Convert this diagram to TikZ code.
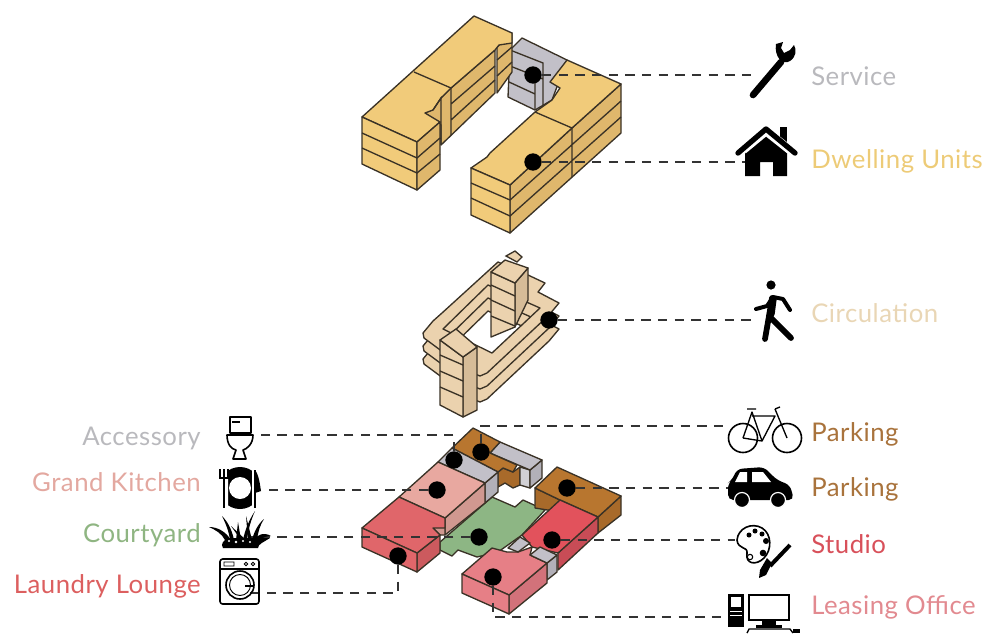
\documentclass[tikz,border=0pt]{standalone}
\usepackage{fontspec}
\setmainfont[LetterSpace=2]{Lato}
\definecolor{outl}{HTML}{3A3226}
\definecolor{ytop}{HTML}{F1CB7A}\definecolor{yside}{HTML}{DFB76C}
\definecolor{gtop}{HTML}{C2C0C8}\definecolor{gside}{HTML}{B2B0B8}
\definecolor{ctop}{HTML}{EBD2AE}\definecolor{cside}{HTML}{D6BC98}
\definecolor{btop}{HTML}{B8762F}\definecolor{bside}{HTML}{A86A2A}
\definecolor{ktop}{HTML}{E8A8A0}\definecolor{kside}{HTML}{D09890}
\definecolor{ltop}{HTML}{E0666A}\definecolor{lside}{HTML}{CC5A5E}
\definecolor{stop}{HTML}{E2525C}\definecolor{sside}{HTML}{C84C56}
\definecolor{otop}{HTML}{E67F86}\definecolor{oside}{HTML}{D2727A}
\definecolor{green1}{HTML}{8DB684}
\definecolor{tS}{HTML}{B9B9BD}\definecolor{tD}{HTML}{EDCB77}\definecolor{tC}{HTML}{E9D6B5}
\definecolor{tP}{HTML}{A9733C}\definecolor{tSt}{HTML}{D8505A}\definecolor{tL}{HTML}{E28A90}
\definecolor{tA}{HTML}{B9B9BD}\definecolor{tK}{HTML}{E3A8A0}\definecolor{tY}{HTML}{8FB582}\definecolor{tR}{HTML}{DC5F5F}
\tikzset{
 face/.style={draw=outl,line width=1pt,line join=round},
 seam/.style={draw=outl,line width=1pt},
 dot/.style={circle,fill=black,inner sep=0pt,minimum size=13pt},
 leader/.style={draw=black!80,line width=1.1pt,dash pattern=on 7pt off 5.5pt},
 lab/.style={font=\fontsize{19.3}{22}\selectfont,inner sep=0pt},
 labr/.style={lab,anchor=base west},
 labl/.style={lab,anchor=base east},
 ico/.style={line width=1.2pt,draw=black,line join=round},
}
\newcommand{\slabring}{%
 \fill[ctop,draw=outl,line width=1pt,even odd rule,line join=round]
 (423,333)--(433,321)--(442,313)--(498,262)--(528,275)--(545,283)--(538,292)--(559,303)--(549,315)--(487,373)--(480,376)--(470,372)--(424,338)--cycle
 (443,329)--(488,285)--(540,308)--(492,353)--cycle;
}
\begin{document}
\begin{tikzpicture}[x=.75pt,y=-.75pt]
\useasboundingbox (0,0) rectangle (984,633);
% ---------- dwelling: service
\fill[gtop,face] (510,50)--(522,38)--(567,60)--(552,100)--(535,110)--(508,97)--cycle;
\draw[seam] (510,50)--(543,63)--(543,105) (510,66)--(543,79) (509,82)--(535,94) (535,78)--(535,110);
% left block
\fill[yside,face] (425,113)--(441,98)--(451,88)--(495,50)--(495,93)--(441,145)--(441,125)--cycle;
\fill[yside,face] (497,47)--(512,33)--(512,72)--(497,93)--cycle;
\fill[ytop,face] (362,117)--(474,16)--(512,33)--(512,43)--(499,45)--(495,50)--(451,88)--(441,98)--(433,110)--(425,113)--(440,122)--(417,142)--cycle;
\fill[ytop,face] (362,117)--(417,142)--(417,190)--(362,164)--cycle;
\fill[yside,face] (417,142)--(440,122)--(440,170)--(417,190)--cycle;
\draw[seam] (362,133)--(417,158)--(440,138) (362,148)--(417,173)--(440,154)
 (414,72)--(451,88)--(451,135) (451,104)--(495,66) (451,120)--(495,80)
 (433,110)--(441,98)--(441,145) (497,60)--(512,47) (497,76)--(512,62);
% right block
\fill[yside,face] (510,185)--(572,128)--(621,84)--(621,133)--(510,233)--cycle;
\fill[ytop,face] (471,168)--(487,157)--(490,153)--(535,112)--(552,100)--(560,88)--(550,82)--(567,60)--(621,84)--(572,128)--(510,185)--cycle;
\fill[ytop,face] (471,168)--(510,185)--(510,233)--(471,215)--cycle;
\draw[seam] (535,112)--(572,128)--(572,177)
 (471,183)--(510,200)--(621,101) (471,198)--(510,216)--(621,117);
% ---------- circulation
\begin{scope}[shift={(0,26)}]\slabring\end{scope}
\begin{scope}[shift={(0,13)}]\slabring\end{scope}
\slabring
\fill[ctop,draw=outl,line width=1pt] (506,256)--(515,251)--(522,257)--(517,262)--cycle;
% back tower
\fill[cside,face] (515,283)--(528,268)--(528,300)--(515,327)--cycle;
\fill[ctop,face] (491,272)--(491,337)--(515,327)--(515,283)--cycle;
\fill[ctop,face] (491,272)--(505,260)--(528,268)--(515,283)--cycle;
\draw[seam] (491,285)--(515,296) (491,300)--(515,311) (491,316)--(515,326);
% front tower
\fill[cside,face] (463,357)--(477,347)--(477,410)--(463,417)--cycle;
\fill[ctop,face] (440,340)--(463,357)--(463,417)--(440,405)--cycle;
\fill[ctop,face] (440,340)--(456,329)--(477,347)--(463,357)--cycle;
\draw[seam] (440,355)--(463,365) (440,371)--(463,381) (440,387)--(463,397);
% ---------- ground
\fill[green1,face] (440,542)--(492,497)--(515,507)--(523,500)--(545,510)--(522,535)--(498,552)--(477,557)--(458,550)--(452,556)--(440,550)--cycle;
% back brown + grey
\fill[bside,face] (498,472)--(503,468)--(513,472)--(520,467)--(520,485)--(513,488)--(505,483)--(498,487)--cycle;
\fill[gside!60!white,face] (520,467)--(530,470)--(530,488)--(520,485)--cycle;
\fill[gside,face] (530,470)--(542,460)--(542,478)--(530,488)--cycle;
\fill[gtop,face] (500,442)--(542,460)--(530,470)--(490,453)--cycle;
\fill[btop,face] (452,448)--(473,428)--(500,442)--(490,453)--(517,465)--(513,472)--(503,468)--(498,472)--cycle;
% accessory
\fill[gside,face] (485,483)--(498,472)--(498,492)--(485,503)--cycle;
\fill[gtop,face] (438,462)--(452,448)--(498,472)--(485,483)--cycle;
% kitchen
\fill[kside,face] (445,518)--(485,483)--(485,503)--(445,535)--cycle;
\fill[ktop,face] (399,497)--(438,462)--(485,483)--(445,518)--cycle;
% laundry
\fill[kside,face] (433,528)--(445,518)--(445,535)--(440,535)--cycle;
\fill[lside,face] (417,553)--(440,535)--(440,553)--(417,572)--cycle;
\fill[ltop,face] (362,528)--(399,497)--(445,518)--(445,528)--(433,528)--(440,535)--(417,553)--cycle;
\fill[ltop,face] (362,528)--(417,553)--(417,572)--(362,547)--cycle;
% right brown
\fill[bside,face] (535,488)--(560,500)--(560,512)--(535,508)--cycle;
\fill[bside,face] (598,517)--(621,496)--(621,515)--(598,533)--cycle;
\fill[btop,face] (535,488)--(557,467)--(621,496)--(598,517)--(560,500)--cycle;
% studio
\fill[sside,face] (598,517)--(598,533)--(558,570)--(558,553)--cycle;
\fill[stop,face] (522,535)--(560,500)--(598,517)--(558,553)--(532,547)--cycle;
% leasing
\fill[gside,face] (547,563)--(557,555)--(557,572)--(547,580)--cycle;
\fill[oside,face] (509,595)--(547,563)--(547,583)--(509,614)--cycle;
\fill[otop,face] (462,574)--(492,548)--(507,552)--(518,552)--(532,547)--(530,555)--(547,563)--(509,595)--cycle;
\fill[otop,face] (462,574)--(509,595)--(509,614)--(462,593)--cycle;
\fill[gtop,face] (508,548)--(520,537)--(530,543)--(518,552)--cycle;
\fill[gtop,face] (530,555)--(540,547)--(557,555)--(547,563)--cycle;
% ---------- dots
\node[dot] (dService) at (533,75) {};
\node[dot] (dDwell) at (533,162) {};
\node[dot] (dCirc) at (549,320) {};
\node[dot] (dAcc) at (454,460) {};
\node[dot] (dBike) at (481,452) {};
\node[dot] (dKit) at (437,490) {};
\node[dot] (dCourt) at (479,537) {};
\node[dot] (dLaun) at (398,556) {};
\node[dot] (dCar) at (567,488) {};
\node[dot] (dStudio) at (552,540) {};
\node[dot] (dLease) at (493,577) {};
% ---------- leader ends
\coordinate (eService) at (757,75);
\coordinate (eDwell) at (745,162);
\coordinate (eCirc) at (752,320);
\coordinate (eAcc) at (250,435);
\coordinate (eBike) at (730,426);
\coordinate (eKit) at (262,490);
\coordinate (eCourt) at (250,537);
\coordinate (eLaun) at (250,593);
\coordinate (eCar) at (728,488);
\coordinate (eStudio) at (735,540);
\coordinate (eLease) at (725,617);
\draw[leader] (dService) -- (eService);
\draw[leader] (dDwell) -- (eDwell);
\draw[leader] (dCirc) -- (eCirc);
\draw[leader] (dAcc) |- (eAcc);
\draw[leader] (dBike) |- (eBike);
\draw[leader] (dKit) -- (eKit);
\draw[leader] (dCourt) -- (eCourt);
\draw[leader] (dLaun) |- (eLaun);
\draw[leader] (dCar) -- (eCar);
\draw[leader] (dStudio) -- (eStudio);
\draw[leader] (dLease) |- (eLease);
% ---------- labels
\node[labr,text=tS] (lService) at (811,85) {Service};
\node[labr,text=tD] (lDwell) at (811,168) {Dwelling Units};
\node[labr,text=tC] (lCirc) at (811,322) {Circulation};
\node[labr,text=tP] (lBike) at (811,441) {Parking};
\node[labr,text=tP] (lCar) at (811,496) {Parking};
\node[labr,text=tSt] (lStudio) at (811,553) {Studio};
\node[labr,text=tL] (lLease) at (811,614) {Leasing Office};
\node[labl,text=tA] (lAcc) at (201,445) {Accessory};
\node[labl,text=tK] (lKit) at (201,491) {Grand Kitchen};
\node[labl,text=tY] (lCourt) at (201,542) {Courtyard};
\node[labl,text=tR] (lLaun) at (201,593) {Laundry Lounge};
% ---------- icons: wrench
\draw[line width=5pt,line cap=round] (753,95)--(781,62);
\fill (776,44) .. controls (774,56) and (782,66) .. (790,61) .. controls (796,57) and (797,50) .. (794,45) -- (790,50) -- (784,53) -- (781,48) -- (783,42) -- cycle;
% house
\fill (745,150)--(766,134)--(787,150)--(787,176)--(773,176)--(773,162)--(760,162)--(760,176)--(745,176)--cycle;
\fill (780,127) rectangle (787,144);
\draw[white,line width=6.5pt,line join=round] (743,150)--(766,131)--(790,150);
\draw[line width=4pt,line cap=round,line join=round] (738,153)--(766,129)--(795,153);
% walker
\fill (771,285) circle (4.6);
\draw[line width=4.3pt,line cap=round,line join=round] (772,298)--(769,316)--(765,339);
\draw[line width=4.3pt,line cap=round,line join=round] (769,316)--(778,325)--(791,338);
\draw[line width=3pt,line cap=round,line join=round] (756,309)--(767,306)--(773,297)--(783,299)--(790,310);
\draw[line width=5.5pt,line cap=round] (773,299)--(771,314);
% bicycle
\draw[ico] (743,438) circle (14.5) (787,438) circle (14.5);
\draw[line width=1pt,line join=round] (743,438)--(752,412)--(762,441)--(743,438) (752,416)--(775,416)--(762,441) (775,409)--(787,438) (747,409)--(756,409) (775,409)--(780,407);
% car
\fill[rounded corners=4pt] (728,500)--(728,483)--(732,480)--(737,469)--(764,467)--(777,480)--(790,485)--(794,500)--cycle;
\fill[white] (740,472)--(747,472)--(747,482)--(735,482)--cycle (752,472)--(763,472)--(771,482)--(752,482)--cycle;
\draw[fill=black,draw=white,line width=.9pt] (742,500) circle (7.5) (778,500) circle (7.5);
% palette
\draw[ico] (737,540) .. controls (738,528) and (752,522) .. (762,528) .. controls (772,534) and (772,550) .. (764,558) .. controls (756,566) and (745,564) .. (747,553) .. controls (748,546) and (738,550) .. (737,540) -- cycle;
\fill (749,535) circle (2.5) (755,531) circle (2.5) (762,534) circle (2.5) (766,541) circle (3) (763,553) circle (3.3);
\draw[line width=.8pt] (750,557) circle (2.7);
\draw[line width=3pt] (790,545)--(770,566);
\fill (772,563)--(767,558)--(760,570)--(759,578)--(766,575)--cycle;
% computer
\fill (728,594) rectangle (744,627);
\fill[white] (731,597) rectangle (741,607);
\draw[white,line width=.6pt] (730,611)--(742,611) (730,615)--(742,615);
\draw[line width=1.2pt] (749,595) rectangle (789,620);
\fill (762,620) rectangle (776,625);
\fill (756,625) rectangle (782,628);
\draw[line width=1pt] (747,633)--(749,629)--(790,629)--(793,633);
\fill (793,629) rectangle (800,633);
% toilet
\draw[ico] (230,417) rectangle (251,433);
\draw[ico] (232,422)--(240,422);
\draw[ico] (227,435) -- (253,435) .. controls (253,444) and (247,449) .. (243,450) -- (246,459) -- (233,459) -- (236,450) .. controls (231,449) and (227,444) .. (227,435) -- cycle;
% plate
\fill (240,488) circle (21);
\fill[white] (240,488) circle (11);
\fill[white] (219,464) rectangle (228,512) (252,464) rectangle (263,512);
\draw[line width=2.2pt] (224,482)--(224,508) (255,470)--(255,508);
\draw[line width=1pt] (220,469)--(220,478)--(228,478)--(228,469) (224,469)--(224,482);
\fill (255,470) .. controls (259,475) and (260,485) .. (261,491) -- (255,493) -- cycle;
% grass
\fill (223,548) .. controls (220,544) and (224,540) .. (228,538) -- (270,538) .. controls (264,542) and (258,544) .. (258,548) -- cycle;
\fill (209,527) .. controls (218,527) and (226,532) .. (231,540) -- (225,540) .. controls (222,534) and (216,530) .. (209,527) -- cycle;
\fill (222,516) .. controls (228,522) and (232,530) .. (234,540) -- (230,540) .. controls (229,532) and (226,524) .. (222,516) -- cycle;
\fill (238,522) -- (241,540) -- (236,540) -- cycle;
\fill (231,526) -- (246,540) -- (241,540) -- cycle;
\fill (255,511) .. controls (251,520) and (248,530) .. (247,540) -- (243,540) .. controls (245,530) and (249,520) .. (255,511) -- cycle;
\fill (246,516) -- (252,540) -- (248,540) -- cycle;
\fill (264,519) .. controls (258,524) and (254,532) .. (252,540) -- (257,540) .. controls (258,532) and (260,525) .. (264,519) -- cycle;
\fill (271,536) .. controls (264,532) and (258,534) .. (254,540) -- (260,540) .. controls (263,537) and (267,536) .. (271,536) -- cycle;
\fill[white] (229,541) circle (1.1) (236,542) circle (1.3) (243,541) circle (1.2) (250,542) circle (1.2);
% washer
\draw[ico,rounded corners=2pt] (220,559) rectangle (259,604);
\draw[ico] (220,569)--(259,569);
\draw[line width=.7pt] (224,562) rectangle (234,566) (246,564) circle (1.8) (253,564) circle (1.8);
\draw[ico] (240,585) circle (14);
\draw[line width=.7pt] (240,585) circle (10.5);
\draw[line width=1.2pt] (245,586)--(254,586);
\end{tikzpicture}
\end{document}
